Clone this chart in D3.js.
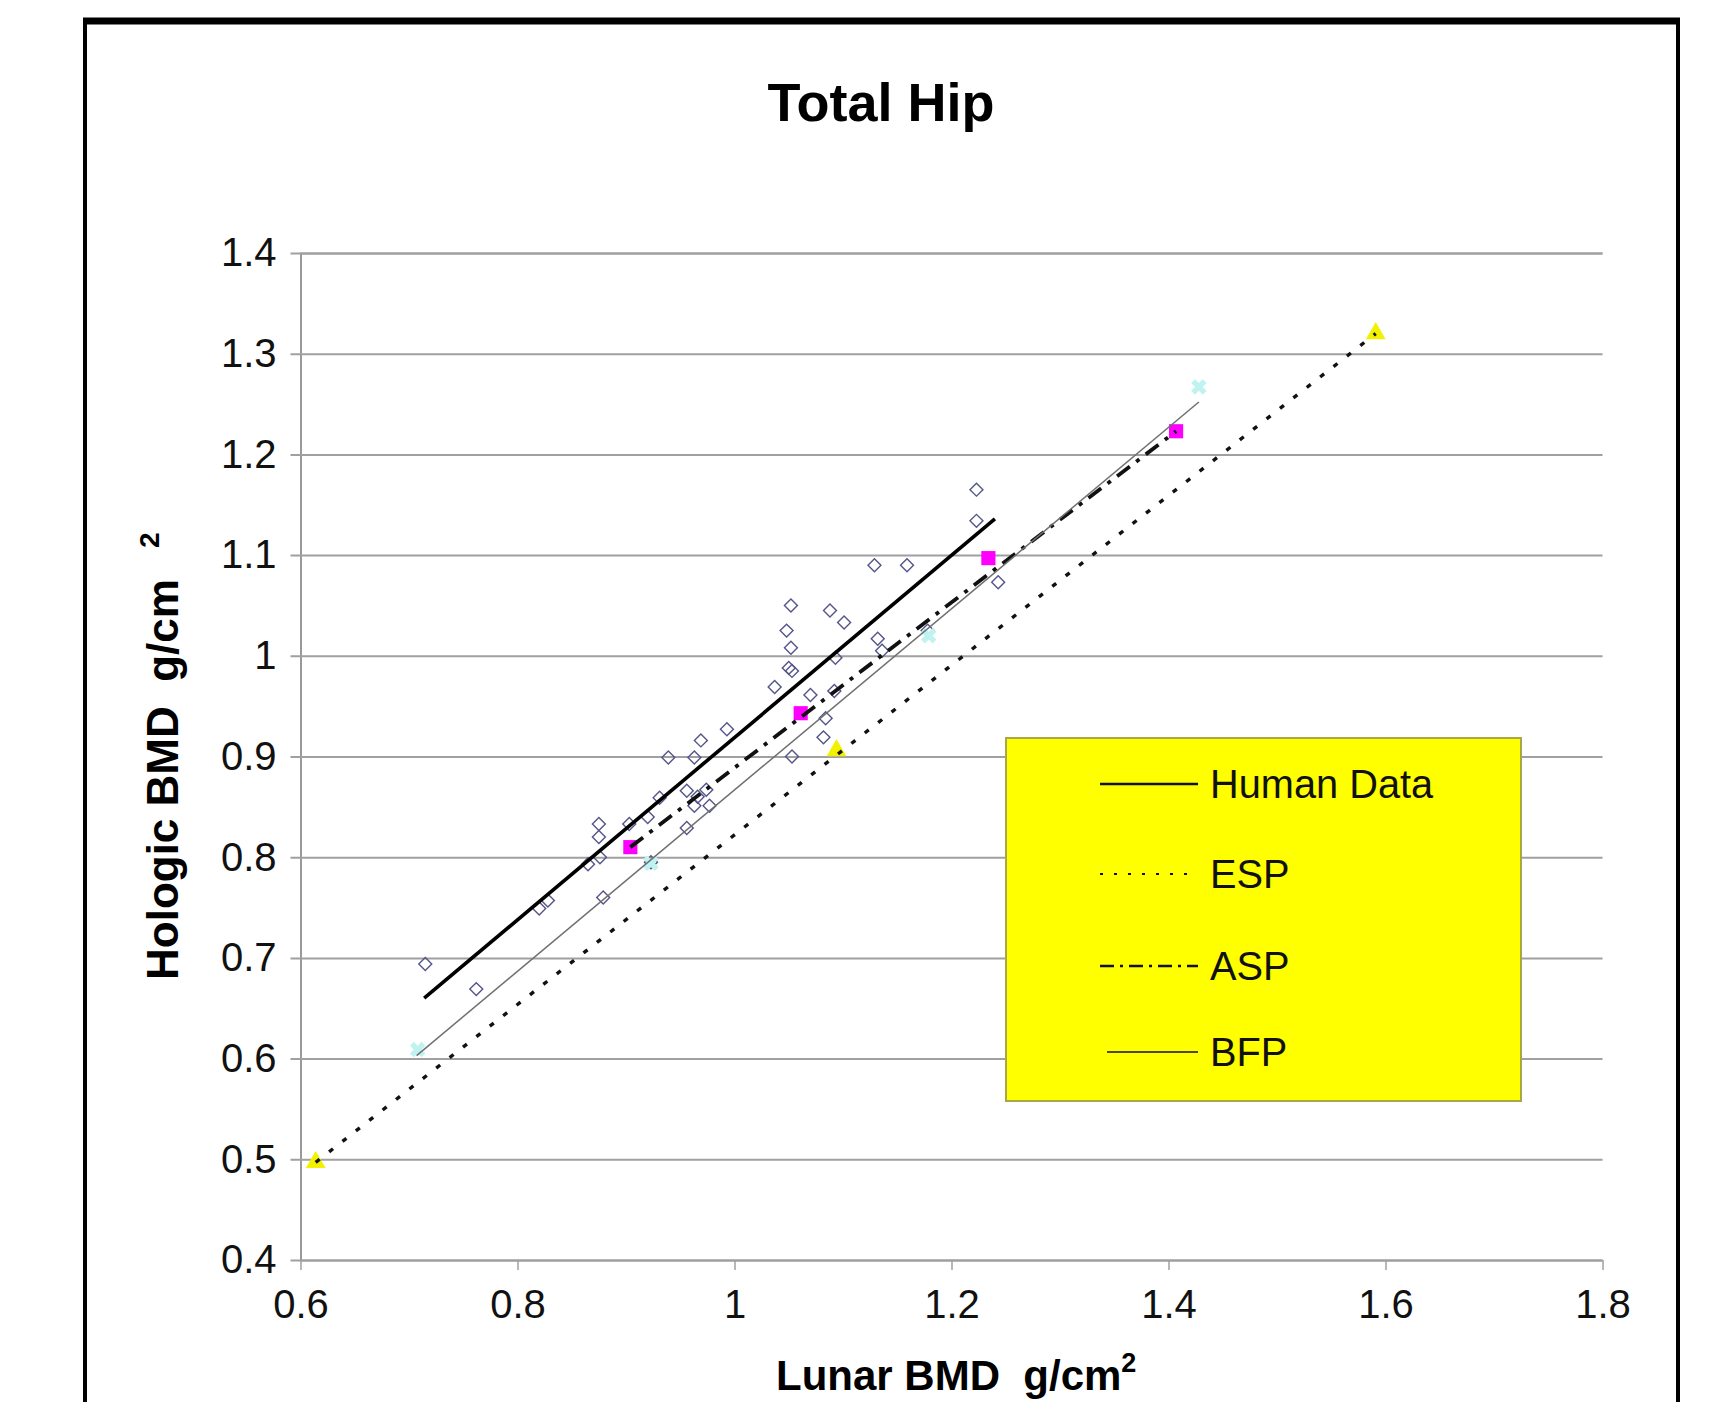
<!DOCTYPE html>
<html>
<head>
<meta charset="utf-8">
<script src="https://cdn.jsdelivr.net/npm/d3@7"></script>
<style>
	body { margin: 0; background: #fff; }
	svg text { font-family: "Liberation Sans", Arial, sans-serif; white-space: pre; }
</style>
</head>
<body>
<script>
"use strict";

// axis ticks
const xTicks = [0.6, 0.8, 1.0, 1.2, 1.4, 1.6, 1.8];
const xTickLabels = ["0.6", "0.8", "1", "1.2", "1.4", "1.6", "1.8"];
const yTicks = [0.4, 0.5, 0.6, 0.7, 0.8, 0.9, 1.0, 1.1, 1.2, 1.3, 1.4];
const yTickLabels = ["0.4", "0.5", "0.6", "0.7", "0.8", "0.9", "1", "1.1", "1.2", "1.3", "1.4"];

// human data points (open diamonds)
const humanLunar = [1.223, 1.223, 1.129, 1.159, 1.243, 1.101, 1.132, 1.136, 1.178, 1.052,
	1.088, 1.048, 1.052, 1.050, 1.053, 1.093, 1.037, 1.070, 1.092, 1.084,
	1.082, 1.053, 0.993, 0.969, 0.939, 0.963, 0.956, 0.974, 0.966, 0.963,
	0.977, 0.956, 0.931, 0.920, 0.903, 0.875, 0.875, 0.876, 0.865, 0.879,
	0.820, 0.828, 0.715, 0.762, 0.923];
const humanHologic = [1.165, 1.134, 1.090, 1.090, 1.073, 1.033, 1.017, 1.005, 1.025, 1.050,
	1.045, 1.025, 1.008, 0.988, 0.985, 0.998, 0.969, 0.961, 0.965, 0.938,
	0.919, 0.900, 0.927, 0.916, 0.899, 0.899, 0.866, 0.867, 0.860, 0.851,
	0.851, 0.829, 0.859, 0.840, 0.833, 0.833, 0.820, 0.800, 0.793, 0.760,
	0.749, 0.757, 0.694, 0.669, 0.795];

// phantom points
const espLunar = [0.614, 1.094, 1.591];
const espHologic = [0.497, 0.906, 1.320];
const aspLunar = [0.904, 1.061, 1.234, 1.407];
const aspHologic = [0.810, 0.943, 1.097, 1.223];
const bfpLunar = [0.708, 0.923, 1.179, 1.428];
const bfpHologic = [0.609, 0.794, 1.020, 1.267];

// fitted lines (end points)
const humanLineX = [0.714, 1.240];
const humanLineY = [0.660, 1.136];
const espLineX = [0.614, 1.591];
const espLineY = [0.497, 1.320];
const aspLineX = [0.904, 1.407];
const aspLineY = [0.810, 1.223];
const bfpLineX = [0.707, 1.428];
const bfpLineY = [0.603, 1.252];

const legendNames = ["Human Data", "ESP", "ASP", "BFP"];

const width = 1727, height = 1402;
const svg = d3.select("body").append("svg").attr("width", width).attr("height", height);

const x = d3.scaleLinear().domain([0.6, 1.8]).range([300.5, 1602.5]);
const y = d3.scaleLinear().domain([0.4, 1.4]).range([1260, 253]);

// outer frame
svg.append("rect").attr("x", 85).attr("y", 22).attr("width", 1593).attr("height", 1420)
	.attr("fill", "none").attr("stroke", "#000").attr("stroke-width", 4);
svg.append("line").attr("x1", 83).attr("x2", 1680).attr("y1", 21).attr("y2", 21)
	.attr("stroke", "#000").attr("stroke-width", 7);

svg.append("text").attr("x", 881).attr("y", 121).attr("text-anchor", "middle")
	.attr("font-size", 54).attr("font-weight", "bold").text("Total Hip");

// gridlines + y axis
const yAxis = d3.axisLeft(y).tickValues(yTicks).tickSize(-(x.range()[1] - x.range()[0]))
	.tickFormat((d, i) => yTickLabels[i]).tickPadding(24);
const gy = svg.append("g").attr("transform", `translate(${x.range()[0]},0)`).call(yAxis);
gy.select(".domain").attr("stroke", "#999").attr("stroke-width", 2);
gy.selectAll(".tick line").attr("stroke", "#a0a0a0").attr("stroke-width", 2).attr("x1", -10);
gy.selectAll(".tick text").attr("font-size", 40).attr("fill", "#111")
	.attr("font-family", "Liberation Sans, Arial, sans-serif");

const xAxis = d3.axisBottom(x).tickValues(xTicks).tickSize(10)
	.tickFormat((d, i) => xTickLabels[i]).tickPadding(20);
const gx = svg.append("g").attr("transform", `translate(0,${y.range()[0]})`).call(xAxis);
gx.select(".domain").remove();
gx.selectAll(".tick line").attr("stroke", "#a0a0a0").attr("stroke-width", 1.5);
gx.selectAll(".tick text").attr("font-size", 40).attr("fill", "#111")
	.attr("font-family", "Liberation Sans, Arial, sans-serif");

// axis titles
const xt = svg.append("text").attr("x", 776).attr("y", 1390)
	.attr("font-size", 42).attr("font-weight", "bold");
xt.append("tspan").text("Lunar BMD  g/cm");
xt.append("tspan").attr("dy", -18).attr("font-size", 27).text("2");

const yt = svg.append("text").attr("transform", "translate(178,980) rotate(-90)")
	.attr("font-size", 44).attr("font-weight", "bold");
yt.append("tspan").text("Hologic BMD  g/cm");
yt.append("tspan").attr("dy", -19).attr("font-size", 28).text("    2");

// human data diamonds
svg.append("g").selectAll("path").data(humanLunar).join("path")
	.attr("d", d3.symbol(d3.symbolSquare, 84))
	.attr("transform", (d, i) => `translate(${x(d)},${y(humanHologic[i])}) rotate(45)`)
	.attr("fill", "none").attr("stroke", "#55558a").attr("stroke-width", 1.4);

// phantom markers
svg.append("g").selectAll("path").data(bfpLunar).join("path")
	.attr("d", d3.symbol(d3.symbolCross, 150))
	.attr("transform", (d, i) => `translate(${x(d)},${y(bfpHologic[i])}) rotate(45)`)
	.attr("fill", "#bff3f0");
svg.append("g").selectAll("path").data(espLunar).join("path")
	.attr("d", d3.symbol(d3.symbolTriangle, 170))
	.attr("transform", (d, i) => `translate(${x(d)},${y(espHologic[i])})`)
	.attr("fill", "#f2f200");
svg.append("g").selectAll("path").data(aspLunar).join("path")
	.attr("d", d3.symbol(d3.symbolSquare, 200))
	.attr("transform", (d, i) => `translate(${x(d)},${y(aspHologic[i])})`)
	.attr("fill", "#ff00ff");

// lines
const styles = [
	{xs: humanLineX, ys: humanLineY, w: 3.6, dash: null, color: "#000"},
	{xs: espLineX, ys: espLineY, w: 3.4, dash: "5 12", color: "#111"},
	{xs: aspLineX, ys: aspLineY, w: 3.8, dash: "16 8 4 8", color: "#111"},
	{xs: bfpLineX, ys: bfpLineY, w: 1.5, dash: null, color: "#707070"}
];
const line = d3.line().x(d => x(d[0])).y(d => y(d[1]));
for (let s of styles) {
	svg.append("path").attr("d", line(d3.zip(s.xs, s.ys)))
		.attr("fill", "none").attr("stroke", s.color).attr("stroke-width", s.w)
		.attr("stroke-dasharray", s.dash);
}

// legend
const lg = svg.append("g");
lg.append("rect").attr("x", 1006).attr("y", 738).attr("width", 515).attr("height", 363)
	.attr("fill", "#ffff00").attr("stroke", "#a8a848").attr("stroke-width", 2);
const rowY = [784, 874, 966, 1052];
const legendDash = [null, "3 11", "14 6 3 6", null];
const legendStart = [1100, 1100, 1100, 1107];
const legendW = [2.5, 2.2, 2.5, 1.3];
legendNames.forEach((name, i) => {
	lg.append("line").attr("x1", legendStart[i]).attr("x2", 1198)
		.attr("y1", rowY[i]).attr("y2", rowY[i])
		.attr("stroke", "#111").attr("stroke-width", legendW[i])
		.attr("stroke-dasharray", legendDash[i]);
	lg.append("text").attr("x", 1210).attr("y", rowY[i] + 14)
		.attr("font-size", 41).attr("fill", "#111")
		.attr("transform", `translate(1210,0) scale(0.97,1) translate(-1210,0)`).text(name);
});
</script>
</body>
</html>
